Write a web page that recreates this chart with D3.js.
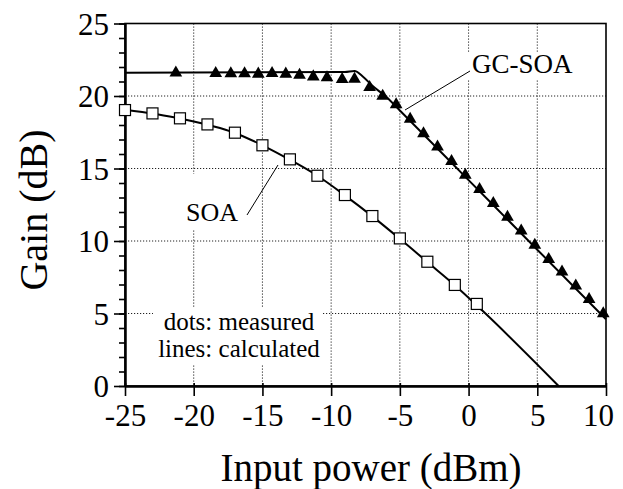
<!DOCTYPE html>
<html><head><meta charset="utf-8">
<script src="https://cdn.jsdelivr.net/npm/d3@7"></script>
<style>
html,body{margin:0;padding:0;background:#fff;}
svg{display:block;}
</style></head>
<body>
<svg id="chart" width="623" height="489"></svg>
<script>
// ---- data ----
const xTicks = [-25, -20, -15, -10, -5, 0, 5, 10];
const yTicks = [0, 5, 10, 15, 20, 25];
const xTickLabels = ["-25", "-20", "-15", "-10", "-5", "0", "5", "10"];

// GC-SOA measured (triangles)
const gcMeasX = [-21.3, -18.4, -17.3, -16.3, -15.3, -14.3, -13.3, -12.3, -11.3, -10.3, -9.2, -8.3,
                 -7.2, -6.25, -5.27, -4.25, -3.28, -2.26, -1.24, -0.24, 0.8, 1.8, 2.83, 3.83,
                 4.82, 5.83, 6.8, 7.8, 8.77, 9.8];
const gcMeasY = [21.6, 21.56, 21.54, 21.54, 21.52, 21.56, 21.52, 21.45, 21.33, 21.27, 21.15, 21.17,
                 20.6, 20.0, 19.4, 18.4, 17.4, 16.5, 15.5, 14.55, 13.57, 12.6, 11.65, 10.7,
                 9.72, 8.74, 7.88, 6.9, 5.98, 5.0];
// GC-SOA calculated (line)
const gcCalcX = [-25, -9, -8.3, -7.7, -7, -6, -5, 0, 5, 10];
const gcCalcY = [21.6, 21.65, 21.72, 21.35, 20.7, 19.95, 19.0, 14.2, 9.4, 4.6];

// SOA measured (squares)
const soaMeasX = [-25, -23, -21, -19, -17, -15, -13, -11, -9, -7, -5, -3, -1, 0.6];
const soaMeasY = [19.03, 18.8, 18.46, 18.04, 17.47, 16.6, 15.63, 14.5, 13.17, 11.72, 10.18, 8.57, 6.97, 5.66];
// SOA calculated (line)
const soaCalcX = [-25, -21, -17, -15, -13, -11, -9, -7, -5, -3, -1, 1, 6.55];
const soaCalcY = [19.05, 18.45, 17.45, 16.6, 15.6, 14.5, 13.15, 11.7, 10.15, 8.55, 6.95, 5.2, 0];

// ---- layout ----
const FONT = '"Liberation Serif"';
const svg = d3.select("#chart");
const L = 125, R = 606, T = 23.5, B = 386;
const x = d3.scaleLinear().domain([-25, 10]).range([L, R]);
const y = d3.scaleLinear().domain([0, 25]).range([B, T]);

// grid
const grid = svg.append("g").attr("stroke", "#222").attr("stroke-width", 1).attr("stroke-dasharray", "1.2,1.8");
grid.selectAll("line.v").data(xTicks.slice(1, -1)).enter().append("line")
  .attr("x1", d => x(d)).attr("x2", d => x(d)).attr("y1", T).attr("y2", B);
grid.selectAll("line.h").data(yTicks.slice(1, -1)).enter().append("line")
  .attr("x1", L).attr("x2", R).attr("y1", d => y(d)).attr("y2", d => y(d));

// white boxes behind annotation texts
const boxes = svg.append("g").attr("fill", "#fff");
boxes.append("rect").attr("x", 468).attr("y", 52).attr("width", 110).attr("height", 28);
boxes.append("rect").attr("x", 180).attr("y", 174).attr("width", 64).attr("height", 56);
boxes.append("rect").attr("x", 153).attr("y", 307).attr("width", 170).attr("height", 58);

// frame
svg.append("rect").attr("x", L).attr("y", T).attr("width", R - L).attr("height", B - T)
  .attr("fill", "none").attr("stroke", "#000").attr("stroke-width", 1.6);

// axes
const fontTick = 31;
const yAxis = svg.append("g").attr("transform", `translate(${L},0)`)
  .call(d3.axisLeft(y).tickValues(yTicks).tickSize(11).tickSizeOuter(0).tickPadding(5));
const yMinor = svg.append("g").attr("transform", `translate(${L},0)`)
  .call(d3.axisLeft(y).tickValues(d3.range(0, 26, 1)).tickSize(6).tickSizeOuter(0).tickFormat(""));
const xAxis = svg.append("g").attr("transform", `translate(0,${B})`)
  .call(d3.axisBottom(x).tickValues(xTicks).tickSize(10).tickSizeOuter(0).tickPadding(8)
        .tickFormat((d, i) => xTickLabels[i]));
const xInner = svg.append("g").attr("transform", `translate(0,${B})`)
  .call(d3.axisTop(x).tickValues(xTicks).tickSize(3).tickSizeOuter(0).tickFormat(""));
[yAxis, yMinor, xAxis, xInner].forEach(g => {
  g.attr("font-family", "Liberation Serif").attr("font-size", fontTick);
  g.select(".domain").attr("stroke", "#000").attr("stroke-width", 2);
  g.selectAll(".tick line").attr("stroke", "#000").attr("stroke-width", 1.6);
  g.selectAll("text").style("font-family", FONT).style("font-size", fontTick + "px").attr("fill", "#000");
});
yAxis.selectAll("text").attr("dy", "0.34em");
xAxis.selectAll(".tick text").filter(d => d === 10).attr("dx", -8);

function label(xp, yp, size, str, anchor) {
  return svg.append("text").attr("x", xp).attr("y", yp).attr("text-anchor", anchor || "start")
    .style("font-family", FONT).style("font-size", size + "px").attr("fill", "#000").text(str);
}

// axis titles
label(371, 481, 39, "Input power (dBm)", "middle");
svg.append("text").attr("transform", "translate(47,210) rotate(-90)").attr("text-anchor", "middle")
  .style("font-family", FONT).style("font-size", "40px").attr("fill", "#000").text("Gain (dB)");

// lines
const line = d3.line().x(d => x(d[0])).y(d => y(d[1])).curve(d3.curveMonotoneX);
svg.append("path").datum(gcCalcX.map((v, i) => [v, gcCalcY[i]])).attr("d", line)
  .attr("fill", "none").attr("stroke", "#000").attr("stroke-width", 2);
svg.append("path").datum(soaCalcX.map((v, i) => [v, soaCalcY[i]])).attr("d", line)
  .attr("fill", "none").attr("stroke", "#000").attr("stroke-width", 2);

// markers
svg.append("g").selectAll("path").data(gcMeasX.map((v, i) => [v, gcMeasY[i]])).enter().append("path")
  .attr("transform", d => `translate(${x(d[0])},${y(d[1])})`)
  .attr("d", d3.symbol(d3.symbolTriangle, 70)).attr("fill", "#000");
svg.append("g").selectAll("rect").data(soaMeasX.map((v, i) => [v, soaMeasY[i]])).enter().append("rect")
  .attr("x", d => x(d[0]) - 5.5).attr("y", d => y(d[1]) - 5.5).attr("width", 11).attr("height", 11)
  .attr("fill", "#fff").attr("stroke", "#000").attr("stroke-width", 1.2);

// annotations
label(472, 73, 27, "GC-SOA");
svg.append("line").attr("x1", 470).attr("y1", 71).attr("x2", 405).attr("y2", 110).attr("stroke", "#000").attr("stroke-width", 1);
label(186, 221, 26, "SOA");
svg.append("line").attr("x1", 247).attr("y1", 215).attr("x2", 278).attr("y2", 165).attr("stroke", "#000").attr("stroke-width", 1);
label(239, 330, 25, "dots: measured", "middle");
label(239, 356.5, 25, "lines: calculated", "middle");
</script>
</body></html>
